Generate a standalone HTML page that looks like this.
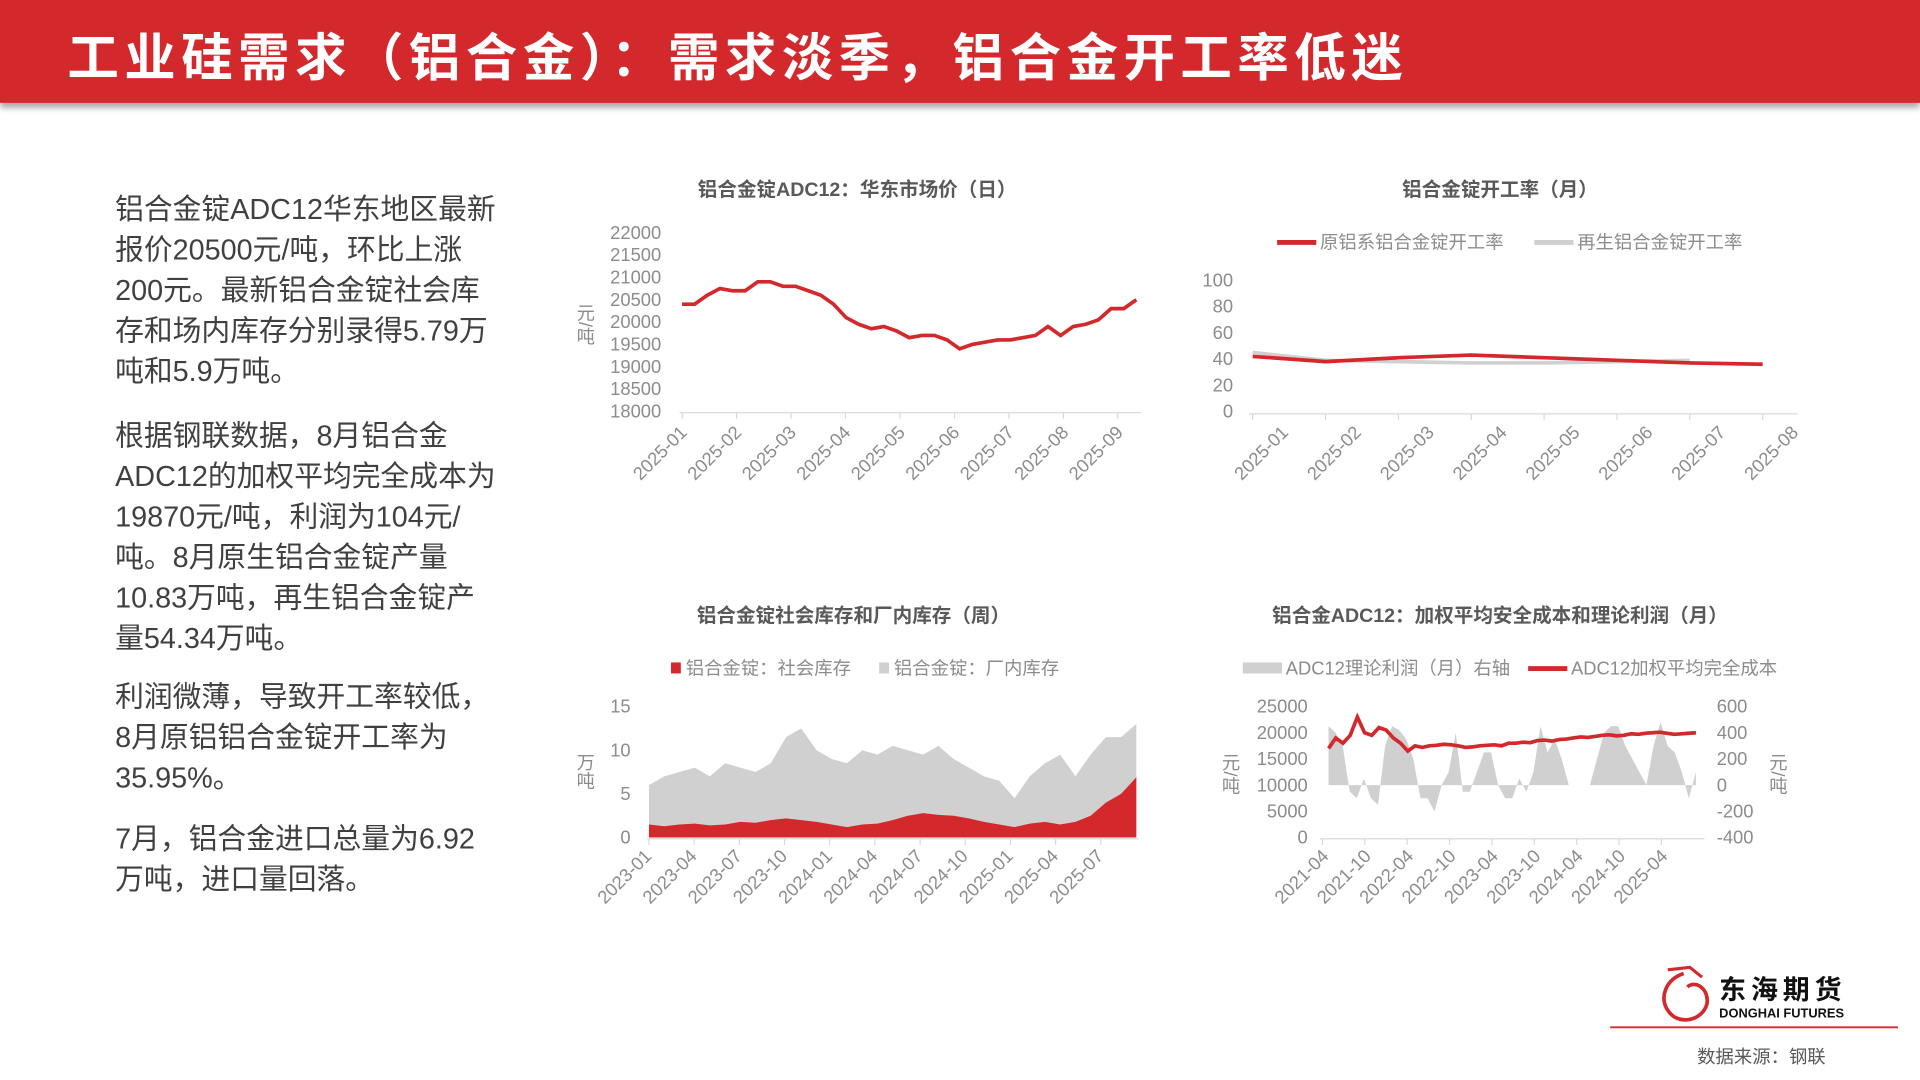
<!DOCTYPE html>
<html><head><meta charset="utf-8">
<style>
html,body{margin:0;padding:0;background:#fff;overflow:hidden}
#wrap{width:1568px;height:882px;transform:scale(1.22449);transform-origin:0 0;position:relative;font-family:"Liberation Sans","Noto Sans CJK SC",sans-serif}
#bar{position:absolute;left:0;top:0;width:1568px;height:84px;background:#d3282c;box-shadow:0 4px 5px rgba(0,0,0,0.35)}
#bar h1{margin:0;position:absolute;left:55px;top:14px;font-size:42px;color:#fff;font-weight:bold;letter-spacing:4.5px;white-space:nowrap}
.txt{position:absolute;left:94px;width:340px;font-size:23.5px;line-height:33px;color:#404040;white-space:nowrap}
svg text{font-family:"Liberation Sans","Noto Sans CJK SC",sans-serif}
</style></head>
<body>
<div id="wrap">
<div id="bar"><h1>工业硅需求（铝合金）：需求淡季，铝合金开工率低迷</h1></div>
<div class="txt" style="top:155px">铝合金锭ADC12华东地区最新<br>报价20500元/吨，环比上涨<br>200元。最新铝合金锭社会库<br>存和场内库存分别录得5.79万<br>吨和5.9万吨。</div>
<div class="txt" style="top:340px">根据钢联数据，8月铝合金<br>ADC12的加权平均完全成本为<br>19870元/吨，利润为104元/<br>吨。8月原生铝合金锭产量<br>10.83万吨，再生铝合金锭产<br>量54.34万吨。</div>
<div class="txt" style="top:553px">利润微薄，导致开工率较低，<br>8月原铝铝合金锭开工率为<br>35.95%。</div>
<div class="txt" style="top:669px">7月，铝合金进口总量为6.92<br>万吨，进口量回落。</div>
<svg id="svg" width="1568" height="882" style="position:absolute;left:0;top:0"></svg>
</div>
<script>
// Chart 1: ADC12 price (weekly)
const priceValues=[20400,20400,20600,20750,20700,20700,20900,20900,20800,20800,20700,20600,20400,20100,19950,19850,19900,19800,19650,19700,19700,19600,19400,19500,19550,19600,19600,19650,19700,19900,19700,19900,19950,20050,20300,20300,20500];
const priceTicks=[18000,18500,19000,19500,20000,20500,21000,21500,22000];
const monthLabels1=["2025-01","2025-02","2025-03","2025-04","2025-05","2025-06","2025-07","2025-08","2025-09"];
// Chart 2: operating rate (monthly)
const rateMonths=["2025-01","2025-02","2025-03","2025-04","2025-05","2025-06","2025-07","2025-08"];
const rateRed=[42,38,41,43,41,39,37,36];
const rateGrey=[45,39,38,37,37,38,39];
const rateTicks=[0,20,40,60,80,100];
// Chart 3: inventory (monthly from 2023-01)
const invGrey=[6,7,7.5,8,7,8.5,8,7.5,8.5,11.5,12.5,10,9,8.5,10,9.5,10.5,10,9.5,10.5,9,8,7,6.5,4.5,7,8.5,9.5,7,9.5,11.5,11.5,13];
const invRed=[1.5,1.3,1.5,1.6,1.4,1.5,1.8,1.7,2.0,2.2,2.0,1.8,1.5,1.2,1.5,1.6,2.0,2.5,2.8,2.6,2.5,2.2,1.8,1.5,1.2,1.6,1.8,1.5,1.8,2.5,4.0,5.0,6.9];
const invTicks=[0,5,10,15];
const invLabels=["2023-01","2023-04","2023-07","2023-10","2024-01","2024-04","2024-07","2024-10","2025-01","2025-04","2025-07"];
// Chart 4: cost & profit (monthly from 2021-05)
const costValues=[17000,19000,18000,19500,23000,20000,19500,21000,20500,19000,18000,16500,17500,17200,17500,17600,17800,17700,17500,17200,17300,17500,17600,17700,17500,18000,18000,18200,18100,18500,18600,18400,18700,18800,19000,19200,19100,19300,19500,19600,19400,19500,19800,19700,19900,20000,20100,19900,19700,19800,19900,20000];
const profitValues=[450,400,300,-50,-100,50,-100,-150,300,450,420,350,200,-100,-100,-200,0,100,400,-50,-50,100,250,250,0,-100,-100,50,-50,100,450,250,350,200,0,0,0,0,200,400,450,450,300,200,100,0,300,480,300,250,100,-100,100];
const costTicks=[0,5000,10000,15000,20000,25000];
const profitTicks=[-400,-200,0,200,400,600];
const costLabels=["2021-04","2021-10","2022-04","2022-10","2023-04","2023-10","2024-04","2024-10","2025-04"];

const NS="http://www.w3.org/2000/svg",svg=document.getElementById('svg');
function el(t,a,p){const e=document.createElementNS(NS,t);for(const k in a)e.setAttribute(k,a[k]);(p||svg).appendChild(e);return e;}
function txt(x,y,s,a){const e=el('text',Object.assign({x:x,y:y,fill:'#8c8c8c','font-size':15},a||{}));e.textContent=s;return e;}
function lin(d0,d1,r0,r1){return v=>r0+(v-d0)/(d1-d0)*(r1-r0);}
function title(x,y,s,n){const t=txt(x,y,s,{fill:'#595959','font-size':16,'font-weight':'bold','text-anchor':'middle'});}
function rot(x,y,s){const t=txt(x,y,s,{'text-anchor':'end',transform:`rotate(-45 ${x} ${y})`});}
function ytick(x,y,s,anchor){const t=txt(x,y+5,s,{'text-anchor':anchor||'end'});}
function vlabel(x,y,s){const t=txt(x,y,s,{'writing-mode':'tb','font-size':15,'text-anchor':'middle'});}

// ---- Chart 1
title(700,160,'铝合金锭ADC12：华东市场价（日）','chart1-title');
{const y=lin(18000,22000,336,190),x0=557,x1=928,xs=i=>x0+i*(x1-x0)/(priceValues.length-1);
priceTicks.forEach(v=>ytick(540,y(v),String(v)));
vlabel(478,265,'元/吨');
const ax=el('line',{x1:555,x2:932,y1:337,y2:337,stroke:'#d9d9d9'});
monthLabels1.forEach((m,i)=>{const x=557+i*44.5;el('line',{x1:x,x2:x,y1:337,y2:342,stroke:'#d9d9d9'});rot(x+5,354,m);});
const p=el('polyline',{points:priceValues.map((v,i)=>xs(i)+','+y(v)).join(' '),fill:'none',stroke:'#d3282c','stroke-width':3});
}

// ---- Chart 2
title(1225,160,'铝合金锭开工率（月）','chart2-title');
{const y=lin(0,100,336,229),xs=i=>1023+i*59.5;
el('line',{x1:1043,x2:1075,y1:198,y2:198,stroke:'#d3282c','stroke-width':4});
let t=txt(1078,203,'原铝系铝合金锭开工率');
el('line',{x1:1253,x2:1285,y1:198,y2:198,stroke:'#d0d0d0','stroke-width':4});
t=txt(1288,203,'再生铝合金锭开工率');
rateTicks.forEach(v=>ytick(1007,y(v),String(v)));
el('line',{x1:1020,x2:1468,y1:338,y2:338,stroke:'#d9d9d9'});
rateMonths.forEach((m,i)=>{const x=xs(i);el('line',{x1:x,x2:x,y1:338,y2:343,stroke:'#d9d9d9'});rot(x+30,354,m);});
const g=el('polyline',{points:rateGrey.map((v,i)=>xs(i)+','+y(v)).join(' '),fill:'none',stroke:'#d0d0d0','stroke-width':3});

const r=el('polyline',{points:rateRed.map((v,i)=>xs(i)+','+y(v)).join(' '),fill:'none',stroke:'#d3282c','stroke-width':3});
}

// ---- Chart 3
title(697,508,'铝合金锭社会库存和厂内库存（周）','chart3-title');
{const y=lin(0,15,684,577),x0=530,x1=928,xs=i=>x0+i*(x1-x0)/(invGrey.length-1);
el('rect',{x:548,y:541,width:8,height:9,fill:'#d3282c'});
let t=txt(560,551,'铝合金锭：社会库存');
el('rect',{x:718,y:541,width:8,height:9,fill:'#d0d0d0'});
t=txt(730,551,'铝合金锭：厂内库存');
invTicks.forEach(v=>ytick(515,y(v),String(v)));
vlabel(478,630,'万吨');
const area=(vals,fill,n)=>{const a=el('path',{d:'M'+xs(0)+','+y(0)+' '+vals.map((v,i)=>'L'+xs(i)+','+y(v)).join(' ')+' L'+xs(vals.length-1)+','+y(0)+'Z',fill:fill});};
area(invGrey,'#d0d0d0','factory-stock-area');area(invRed,'#d3282c','social-stock-area');
el('line',{x1:528,x2:930,y1:685,y2:685,stroke:'#d9d9d9'});
invLabels.forEach((m,i)=>{const x=530+i*36.9;el('line',{x1:x,x2:x,y1:685,y2:690,stroke:'#d9d9d9'});rot(x+3,700,m);});}

// ---- Chart 4
title(1225,508,'铝合金ADC12：加权平均安全成本和理论利润（月）','chart4-title');
{const yl=lin(0,25000,684,577),yr=lin(-400,600,684,577),x0=1085,x1=1385,xs=i=>x0+i*(x1-x0)/(profitValues.length-1),xc=i=>x0+i*(x1-x0)/(costValues.length-1);
el('rect',{x:1015,y:541,width:32,height:9,fill:'#d0d0d0'});
let t=txt(1050,551,'ADC12理论利润（月）右轴');
el('line',{x1:1248,x2:1280,y1:546,y2:546,stroke:'#d3282c','stroke-width':4});
t=txt(1283,551,'ADC12加权平均完全成本');
costTicks.forEach(v=>ytick(1068,yl(v),String(v)));
profitTicks.forEach(v=>ytick(1402,yr(v),String(v),'start'));
vlabel(1005,632,'元/吨');vlabel(1452,632,'元/吨');
const a=el('path',{d:'M'+xs(0)+','+yr(0)+' '+profitValues.map((v,i)=>'L'+xs(i)+','+yr(v)).join(' ')+' L'+xs(profitValues.length-1)+','+yr(0)+'Z',fill:'#d0d0d0'});

const c=el('polyline',{points:costValues.map((v,i)=>xc(i)+','+yl(v)).join(' '),fill:'none',stroke:'#d3282c','stroke-width':3});

el('line',{x1:1078,x2:1392,y1:685,y2:685,stroke:'#d9d9d9'});
costLabels.forEach((m,i)=>{const x=1080+i*34.6;el('line',{x1:x,x2:x,y1:685,y2:690,stroke:'#d9d9d9'});rot(x+6,700,m);});}

// ---- footer
{const g=el('g',{});
el('path',{d:'M1375,795 C1360,800 1355,815 1362,825 C1370,838 1390,834 1394,820 C1396,808 1385,800 1378,806',fill:'none',stroke:'#d3282c','stroke-width':3},g);
el('path',{d:'M1362,792 L1380,790 L1390,798',fill:'none',stroke:'#d3282c','stroke-width':2.5},g);
txt(1404,816,'东海期货',{fill:'#111','font-size':22,'font-weight':'bold','letter-spacing':4},g);
txt(1404,831,'DONGHAI FUTURES',{fill:'#111','font-size':10.5,'font-weight':'bold'},g);
el('line',{x1:1315,x2:1550,y1:839,y2:839,stroke:'#d3282c','stroke-width':1.5});
const t=txt(1386,868,'数据来源：钢联',{fill:'#595959','font-size':15});}
</script>
</body></html>
